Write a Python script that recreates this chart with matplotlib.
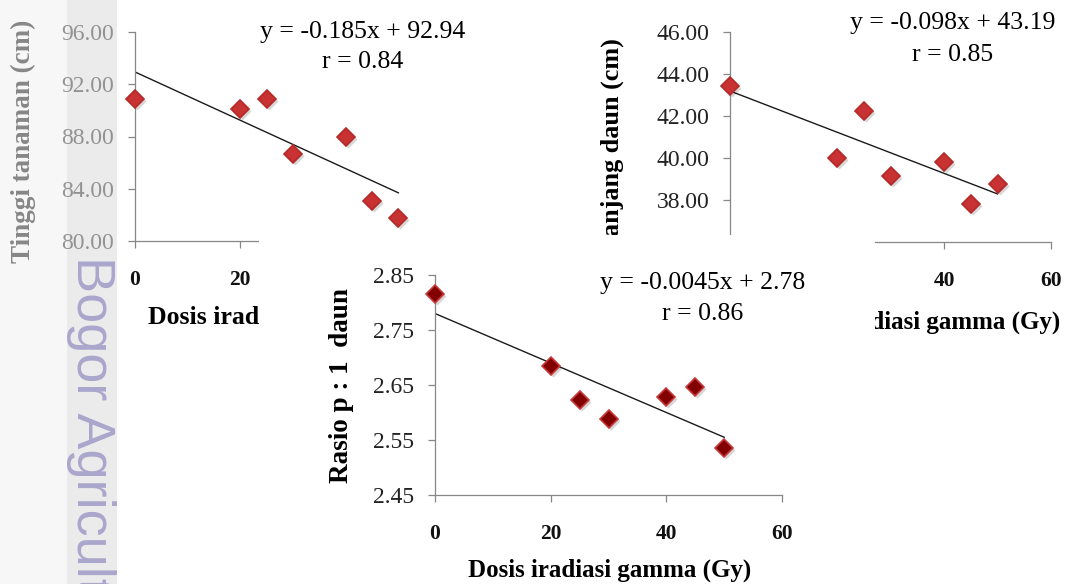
import matplotlib
matplotlib.use('Agg')
import matplotlib.pyplot as plt
from matplotlib.patches import Rectangle
from matplotlib.transforms import offset_copy, Bbox

plt.rcParams['font.family'] = ['Liberation Serif', 'DejaVu Serif']

W, H = 1075, 584

# dose (Gy)
dosis = [0, 20, 25, 30, 40, 45, 50]

# plant height (cm)
tinggi = [90.9, 90.1, 90.9, 86.65, 88.0, 83.05, 81.75]
tinggi_fit = (-0.185, 92.94)

# leaf length (cm)
panjang = [43.45, 40.0, 42.25, 39.15, 39.8, 37.8, 38.75]
panjang_fit = (-0.098, 43.19)

# leaf length : width ratio
rasio = [2.815, 2.685, 2.623, 2.588, 2.628, 2.646, 2.535]
rasio_fit = (-0.0045, 2.78)

x_ticks = [0, 20, 40, 60]
tinggi_ticks = [80, 84, 88, 92, 96]
panjang_ticks = [36, 38, 40, 42, 44, 46]
rasio_ticks = [2.45, 2.55, 2.65, 2.75, 2.85]

SPINE = '#878787'


def fx(px):
    return px / W


def fy(py):
    return 1 - py / H


def rect(left, top, right, bottom):
    return [fx(left), fy(bottom), fx(right) - fx(left), fy(top) - fy(bottom)]


def style_axes(ax, xt, yt, yfmt, xlabels_at=None):
    ax.set_facecolor('none')
    for s in ['top', 'right']:
        ax.spines[s].set_visible(False)
    for s in ['left', 'bottom']:
        ax.spines[s].set_color(SPINE)
        ax.spines[s].set_linewidth(0.9)
    ax.set_xlim(0, 60)
    ax.set_ylim(yt[0], yt[-1])
    shown = xlabels_at if xlabels_at is not None else xt
    ax.set_xticks(xt, [str(v) if v in shown else '' for v in xt], fontweight='bold')
    ax.set_yticks(yt, [yfmt % v for v in yt])
    ax.tick_params(axis='x', direction='out', length=5, width=0.9, color=SPINE,
                   pad=16, labelsize=15.5, labelcolor='#111111')
    ax.tick_params(axis='y', direction='out', length=5, width=0.9, color=SPINE,
                   pad=10, labelsize=17, labelcolor='#222222')


def scatter_fit(ax, fig, y, fit, face, edge):
    shadow = offset_copy(ax.transData, fig=fig, x=2, y=-2, units='dots')
    ax.plot(dosis, y, 'D', ms=8.8, color='0.55', alpha=0.35, mec='none',
            transform=shadow, clip_on=False, zorder=2)
    ax.plot(dosis, y, 'D', ms=8.8, mfc=face, mec=edge, mew=1.2,
            clip_on=False, zorder=3)
    xs = [dosis[0], dosis[-1]]
    ax.plot(xs, [fit[0] * v + fit[1] for v in xs], color='#1a1a1a', lw=1.0, zorder=2.5)


def eq_text(ax, fig, cx, y1, y2, fit, r, fmt):
    ax.text(fx(cx), fy(y1), fmt % (fit[0], fit[1]), transform=fig.transFigure,
            ha='center', va='center', fontsize=18.5)
    ax.text(fx(cx), fy(y2), 'r = %.2f' % r, transform=fig.transFigure,
            ha='center', va='center', fontsize=18.5)


fig = plt.figure(figsize=(10.75, 5.84), dpi=100)
fig.patch.set_facecolor('white')

# top-left: Tinggi tanaman
ax1 = fig.add_axes(rect(135, 32, 451, 241), zorder=0)
style_axes(ax1, x_ticks, tinggi_ticks, '%.2f', xlabels_at=[0, 20])
scatter_fit(ax1, fig, tinggi, tinggi_fit, '#c83232', '#b42a2a')
eq_text(ax1, fig, 363, 32, 62, tinggi_fit, 0.84, 'y = %.3fx + %.2f')
ax1.text(fx(23), fy(141), 'Tinggi tanaman (cm)', transform=fig.transFigure,
         rotation=90, ha='center', va='center', fontsize=19.5, fontweight='bold')
# x label of this chart is hidden behind the bottom panel from x=259 on
ax1.text(fx(259), fy(318), 'Dosis irad', transform=fig.transFigure,
         ha='right', va='center', fontsize=18.5, fontweight='bold')

# top-right: Panjang daun
ax2 = fig.add_axes(rect(730, 32, 1051, 242), zorder=0)
style_axes(ax2, x_ticks, panjang_ticks, '%.2f', xlabels_at=[40, 60])
scatter_fit(ax2, fig, panjang, panjang_fit, '#c83232', '#b42a2a')
eq_text(ax2, fig, 953, 23, 55, panjang_fit, 0.85, 'y = %.3fx + %.2f')
t = ax2.text(fx(612), fy(38), 'Panjang daun (cm)', transform=fig.transFigure,
             rotation=90, ha='center', va='top', fontsize=18.8, fontweight='bold')
t.set_clip_box(Bbox.from_extents(0, H - 236, W, H))
t.set_clip_on(True)
t = ax2.text(fx(1060), fy(322), 'Dosis iradiasi gamma (Gy)', transform=fig.transFigure,
             ha='right', va='center', fontsize=18, fontweight='bold')
t.set_clip_box(Bbox.from_extents(875, 0, W, H))
t.set_clip_on(True)

# white panel of the bottom chart, covering parts of the two above
fig.add_artist(Rectangle((fx(259), 0), fx(875) - fx(259), fy(235),
                         transform=fig.transFigure, facecolor='white',
                         edgecolor='none', zorder=1))

# bottom: Rasio p : l daun
ax3 = fig.add_axes(rect(435, 275, 782, 495), zorder=2)
style_axes(ax3, x_ticks, rasio_ticks, '%.2f')
scatter_fit(ax3, fig, rasio, rasio_fit, '#820000', '#c83a3a')
eq_text(ax3, fig, 703, 283, 314, rasio_fit, 0.86, 'y = %.4fx + %.2f')
ax3.text(fx(342), fy(386), 'Rasio p : 1  daun', transform=fig.transFigure,
         rotation=90, ha='center', va='center', fontsize=19.5, fontweight='bold')
ax3.text(fx(610), fy(570), 'Dosis iradiasi gamma (Gy)', transform=fig.transFigure,
         ha='center', va='center', fontsize=18, fontweight='bold')

# watermark strip on the left
fig.add_artist(Rectangle((0, 0), fx(67), 1, transform=fig.transFigure,
                         facecolor='#f1f1f1', alpha=0.56, edgecolor='none', zorder=3))
fig.add_artist(Rectangle((fx(67), 0), fx(117) - fx(67), 1, transform=fig.transFigure,
                         facecolor='#dedede', alpha=0.6, edgecolor='none', zorder=3))
fig.text(fx(91), fy(256), 'Bogor Agricult', rotation=-90,
         ha='center', va='top', fontsize=39, color='#aaa6cc',
         family=['Liberation Sans', 'DejaVu Sans'], zorder=4)

fig.savefig('out.png', dpi=100)
